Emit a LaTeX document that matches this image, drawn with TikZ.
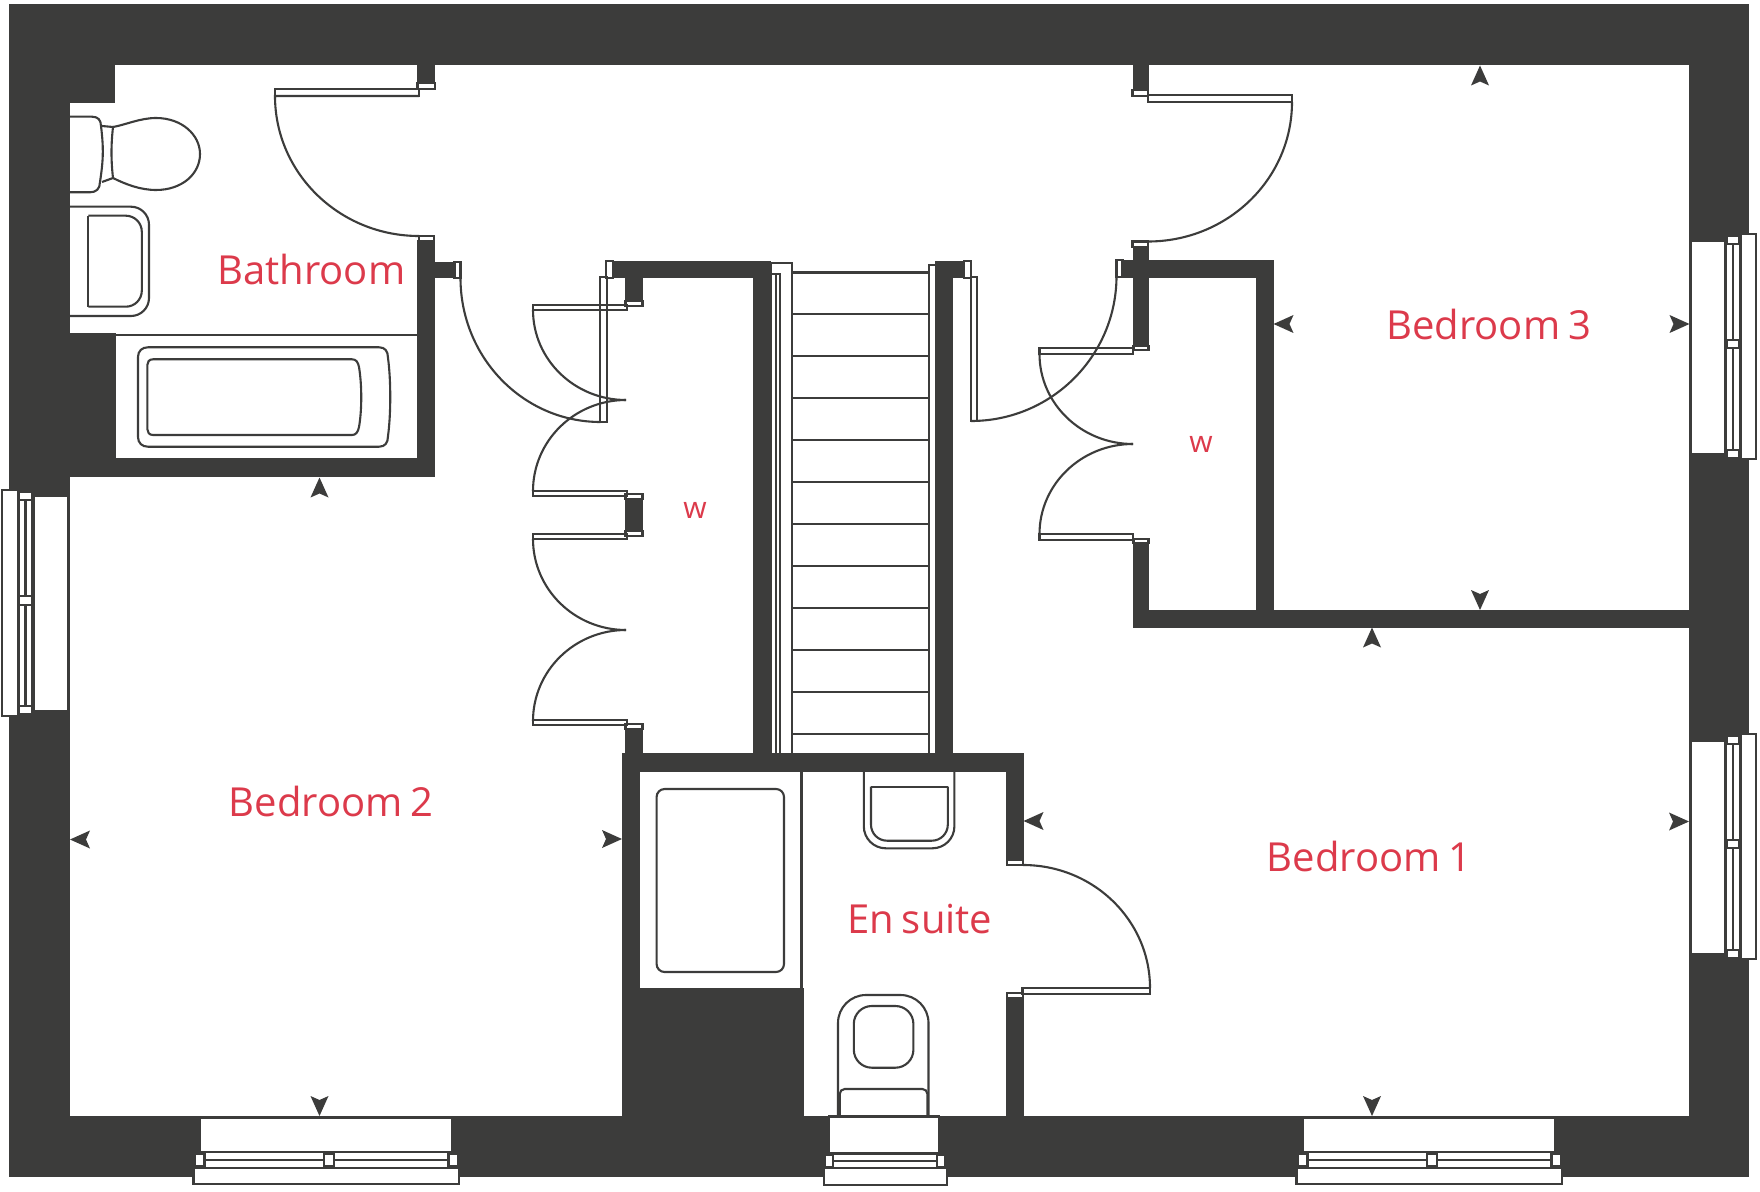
\documentclass[tikz,border=0pt]{standalone}
\usepackage{fontspec}
\setmainfont[WordSpace=0.75]{Open Sans}
\definecolor{wallgrey}{HTML}{3C3C3B}
\definecolor{roomred}{HTML}{DC3A4B}
\tikzset{
	wall/.style={fill=wallgrey},
	fixture/.style={draw=wallgrey, line width=1.05pt, line join=miter},
	panel/.style={fixture, fill=white},
	roomlabel/.style={text=roomred, font=\fontsize{20}{20}\selectfont, anchor=base west, inner sep=0pt},
	robelabel/.style={text=roomred, font=\fontsize{15}{15}\selectfont, anchor=base, inner sep=0pt}
}
\begin{document}
\begin{tikzpicture}[x=0.5pt, y=-0.5pt]
	\useasboundingbox (0,0) rectangle (1760,1192);
	\fill[white] (0,0) rectangle (1760,1192);

	\foreach \xa/\ya/\xb/\yb in {
		9/4/1749/65, 9/4/70/1177, 1689/4/1749/1177, 9/1116/1749/1177,
		70/65/115/103, 70/333/116/477, 70/458/435/477, 417/240/435/477,
		417/65/435/83, 435/262/455/278,
		613/261/771/278, 625/278/643/301, 753/261/771/754, 625/499/643/531, 625/729/643/754,
		935/261/964/278, 935/261/953/754,
		622/753/1024/772, 622/753/640/1116, 622/988/803.5/1116,
		1006/772/1024/860, 1006/998/1024/1116,
		1132.5/65/1149/90, 1132.5/247/1149/346, 1122.5/260/1273.5/278, 1256/260/1273.5/628,
		1132.5/543/1149/628, 1132.5/610/1689/628}
		\fill[wall] (\xa,\ya) rectangle (\xb,\yb);

	\foreach \xa/\ya/\xb/\yb in {
		417.5/83/435/89, 419/236/434/241, 454.5/262/460.5/278, 606/261/613/278,
		625.5/301/642.5/306, 625.5/494/642.5/499, 625.5/531/642.5/536, 625.5/724/642.5/729,
		964/261/971/278, 1116.5/260/1122.5/277,
		1132.5/90/1148/96, 1132.5/241.5/1148/247, 1133.5/346/1148.5/350, 1133.5/539/1148.5/543,
		1007/860/1023/865, 1007/993/1023/998}
		\draw[panel] (\xa,\ya) rectangle (\xb,\yb);

	\draw[panel] (771,263) -- (792,263) -- (792,754) -- (771,754) -- cycle;
	\draw[fixture] (771,274) -- (780,274) -- (780,754);
	\draw[fixture] (776,274) -- (776,754);
	\draw[fixture] (935,265) -- (928.7,265) -- (928.7,754);
	\foreach \ty in {272.5,314,356,398,440,482,524,566,608,650,692,734}
		\draw[fixture] (792,\ty) -- (928.7,\ty);

	\draw[fixture] (419,96) -- (275,96) arc[start angle=180, end angle=90, x radius=144, y radius=140];
	\draw[fixture] (460.5,278) arc[start angle=180, end angle=90, x radius=140, y radius=144];
	\draw[fixture] (971,421) arc[start angle=90, end angle=0, x radius=145.5, y radius=145];
	\draw[fixture] (1292,102) arc[start angle=0, end angle=90, x radius=144, y radius=139.5];
	\draw[fixture] (1150,988) arc[start angle=0, end angle=-90, x radius=127, y radius=123];
	\draw[fixture] (533,310) arc[start angle=180, end angle=90, x radius=93, y radius=90];
	\draw[fixture] (533,491) arc[start angle=180, end angle=270, x radius=93, y radius=91];
	\draw[fixture] (533,539) arc[start angle=180, end angle=90, x radius=93, y radius=91];
	\draw[fixture] (533,721) arc[start angle=180, end angle=270, x radius=93, y radius=91];
	\draw[fixture] (1039.5,354) arc[start angle=180, end angle=90, x radius=93.5, y radius=90];
	\draw[fixture] (1039.5,534) arc[start angle=180, end angle=270, x radius=93.5, y radius=90];

	\foreach \xa/\ya/\xb/\yb in {
		275/89/419/96, 600/277/607/422, 971/277/977/421, 1148/95/1292/102, 1022.5/988/1150/994,
		533/305/627/310, 533/491/627/496, 533/534/627/539, 533/720/627/725,
		1039.5/348/1133/354, 1039.5/534/1133/540}
		\draw[fixture] (\xa,\ya) rectangle (\xb,\yb);

	\draw[fixture] (70,116.7) -- (92,116.7) .. controls (98,116.7) and (101,120) .. (101,126) .. controls (104,150) and (103,162) .. (100,182) .. controls (100,189) and (96,192.3) .. (90,192.3) -- (70,192.3);
	\draw[fixture] (102,126) -- (113,127) .. controls (111,145) and (111,160) .. (113,178) -- (102,182);
	\draw[fixture] (113,127) .. controls (125,125) and (140,118) .. (156,118) .. controls (182,118) and (200,135) .. (200,154) .. controls (200,174) and (182,190) .. (156,190) .. controls (140,190) and (125,184) .. (113,178);
	\draw[fixture, rounded corners=9pt] (70,206.7) -- (149,206.7) -- (149,316) -- (70,316);
	\draw[fixture, rounded corners=8pt] (88.4,215.7) -- (141.8,215.7) -- (141.8,306.7) -- (88.4,306.7);
	\draw[fixture] (88.4,215.7) -- (88.4,306.7);
	\draw[fixture] (116,335) -- (417,335);
	\draw[fixture] (148,347.3) -- (379,347.3) .. controls (385,347.3) and (388,351) .. (388,358) .. controls (391,380) and (391,414) .. (388,436) .. controls (388,443) and (385,446.7) .. (379,446.7) -- (148,446.7) .. controls (142,446.7) and (138,443) .. (138,437) -- (138,357) .. controls (138,351) and (142,347.3) .. (148,347.3) -- cycle;
	\draw[fixture] (153,359.3) -- (352,359.3) .. controls (356,359.3) and (358,362) .. (359,367) .. controls (362,385) and (362,410) .. (359,427) .. controls (358,432) and (356,435) .. (352,435) -- (153,435) .. controls (149,435) and (147.3,432) .. (147.3,429) -- (147.3,365) .. controls (147.3,362) and (149,359.3) .. (153,359.3) -- cycle;

	\draw[fixture] (801.5,772) -- (801.5,988);
	\draw[fixture, rounded corners=4pt] (656.6,789) rectangle (784,972);
	\draw[fixture, rounded corners=11pt] (863.8,772) -- (863.8,848.3) -- (954.4,848.3) -- (954.4,772);
	\draw[fixture, rounded corners=8pt] (871,786.7) -- (871,840.7) -- (947.8,840.7) -- (947.8,786.7);
	\draw[fixture] (871,786.7) -- (947.8,786.7);
	\draw[fixture, rounded corners=14pt] (838,1116) -- (838,995) -- (928.5,995) -- (928.5,1116);
	\draw[fixture, rounded corners=9pt] (853.8,1006) rectangle (913.4,1067.7);
	\draw[fixture, rounded corners=2.5pt] (839.7,1116) -- (839.7,1089) -- (927.4,1089) -- (927.4,1116);

	\foreach \wx in {195,1298} {
		\begin{scope}[shift={(\wx,0)}]
			\draw[panel] (5,1118) rectangle (257,1152);
			\draw[panel] (0,1152) rectangle (263,1168);
			\draw[fixture] (9,1160) -- (254,1160);
			\draw[panel] (0,1154) rectangle (9.5,1166);
			\draw[panel] (129,1154) rectangle (139,1166);
			\draw[panel] (253.5,1154) rectangle (263,1166);
			\draw[panel] (-1.5,1168) rectangle (264,1184);
		\end{scope}
	}
	\draw[panel] (829.4,1116.5) rectangle (939,1153);
	\draw[panel] (825,1154) rectangle (945,1168);
	\draw[fixture] (833,1161) -- (937,1161);
	\draw[panel] (825,1155) rectangle (833,1167);
	\draw[panel] (937,1155) rectangle (945,1167);
	\draw[panel] (824,1168) rectangle (946.7,1185);

	\foreach \wy in {236,736} {
		\draw[panel] (1690.5,\wy+4.7) rectangle (1725.5,\wy+218);
		\draw[panel] (1725.5,\wy) rectangle (1740.5,\wy+222);
		\draw[fixture] (1733,\wy+8) -- (1733,\wy+214);
		\draw[panel] (1726.5,\wy) rectangle (1739.5,\wy+8);
		\draw[panel] (1726.5,\wy+104) rectangle (1739.5,\wy+112);
		\draw[panel] (1726.5,\wy+214) rectangle (1739.5,\wy+222);
		\draw[panel] (1740.5,\wy-2) rectangle (1756,\wy+223);
	}
	\draw[panel] (34,496.4) rectangle (68.3,710.7);
	\draw[panel] (19,492) rectangle (32.3,714);
	\draw[fixture] (25.5,500) -- (25.5,706);
	\draw[panel] (19,492) rectangle (32.3,500);
	\draw[panel] (19,596) rectangle (32.3,604.7);
	\draw[panel] (19,706) rectangle (32.3,714);
	\draw[panel] (1.7,490) rectangle (17.7,716);

	\foreach \ax/\ay/\rot in {
		1480/65.5/90, 1273.5/324/180, 1689.5/324/0, 1480/610/-90,
		1372/627.5/90, 1689/821.5/0, 1372/1116/-90, 1023.5/821/180,
		319.5/477.5/90, 70/839.5/180, 622/839/0, 319.5/1116/-90}
		\fill[wall, shift={(\ax,\ay)}, rotate=\rot] (0,0) -- (-20,9) -- (-16,0) -- (-20,-9) -- cycle;

	\node[roomlabel] (bathroom) at (217,285) {Bathroom};
	\node[roomlabel] (bedroomthree) at (1386,340) {Bedroom 3};
	\node[roomlabel] (bedroomtwo) at (228.5,816.5) {Bedroom 2};
	\node[roomlabel] (bedroomone) at (1266.5,871) {Bedroom 1};
	\node[roomlabel] (ensuite) at (847,933) {En suite};
	\node[robelabel] (robeleft) at (695,518) {w};
	\node[robelabel] (roberight) at (1201,452) {w};
\end{tikzpicture}
\end{document}
